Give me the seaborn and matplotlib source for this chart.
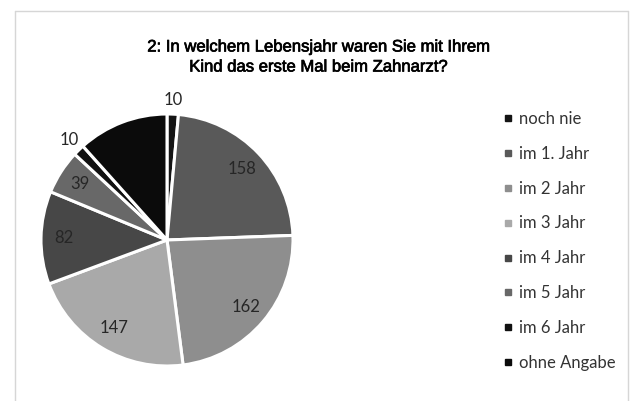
import numpy as np
import pandas as pd
import seaborn as sns
import matplotlib
matplotlib.use("Agg")
import matplotlib.pyplot as plt
from matplotlib.lines import Line2D
import matplotlib.patheffects as pe

categories = ["noch nie", "im 1. Jahr", "im 2 Jahr", "im 3 Jahr", "im 4 Jahr",
              "im 5 Jahr", "im 6 Jahr", "ohne Angabe"]
values = [10, 158, 162, 147, 82, 39, 10, 80]
colors = ["#141414", "#595959", "#8e8e8e", "#a9a9a9", "#474747", "#686868", "#111111", "#0b0b0b"]
title_lines = ["2: In welchem Lebensjahr waren Sie mit Ihrem", "Kind das erste Mal beim Zahnarzt?"]

sns.set_theme(style="white")
plt.rcParams["font.family"] = ["Lato", "DejaVu Sans"]

W, H = 631, 401
fig = plt.figure(figsize=(W / 100, H / 100), dpi=100)
fig.patch.set_facecolor("white")

cx, cy, r = 167, 240, 126
ax = fig.add_axes([(cx - r) / W, (H - cy - r) / H, 2 * r / W, 2 * r / H])
df = pd.DataFrame({"cat": categories, "val": values, "col": colors})
wedges, _ = ax.pie(df["val"], colors=df["col"], startangle=90, counterclock=False,
                   radius=1.0, wedgeprops=dict(edgecolor="white", linewidth=2.2))
ax.set_xlim(-1, 1)
ax.set_ylim(-1, 1)
ax.axis("off")

for w, v, cat in zip(wedges, df["val"], df["cat"]):
    if cat == "ohne Angabe":
        continue  # label is black on black in the reference (not visible)
    mid = np.deg2rad((w.theta1 + w.theta2) / 2)
    d = 1.11 if v <= 10 else 0.82
    ax.text(d * np.cos(mid), d * np.sin(mid), str(v), ha="center", va="center",
            fontsize=12, color="#262626", family=["Lato", "DejaVu Sans"], clip_on=False)

bold_fx = [pe.withStroke(linewidth=0.5, foreground="#000000")]
fig.text(0.505, 1 - 47 / H, title_lines[0], ha="center", va="center",
         fontsize=12, family=["Liberation Sans", "DejaVu Sans"], color="#000000",
         path_effects=bold_fx)
fig.text(0.505, 1 - 67 / H, title_lines[1], ha="center", va="center",
         fontsize=12, family=["Liberation Sans", "DejaVu Sans"], color="#000000",
         path_effects=bold_fx)

handles = [Line2D([0], [0], marker="s", linestyle="none", markersize=4.5,
                  markerfacecolor=c, markeredgecolor=c) for c in colors]
leg = fig.legend(handles, categories, loc="upper left",
                 bbox_to_anchor=(488 / W, 1 - 96 / H), frameon=False,
                 handlelength=0.6, handletextpad=0.35, labelspacing=1.13,
                 prop={"family": ["Lato", "DejaVu Sans"], "size": 12})
for t in leg.get_texts():
    t.set_color("#333333")

bc = "#d6d6d6"
fig.add_artist(Line2D([15 / W, 628 / W], [1 - 11 / H, 1 - 11 / H], color=bc, lw=1, transform=fig.transFigure))
fig.add_artist(Line2D([15 / W, 15 / W], [0, 1 - 11 / H], color=bc, lw=1, transform=fig.transFigure))
fig.add_artist(Line2D([628 / W, 628 / W], [0, 1 - 11 / H], color=bc, lw=1, transform=fig.transFigure))

fig.savefig("out.png", dpi=100)
